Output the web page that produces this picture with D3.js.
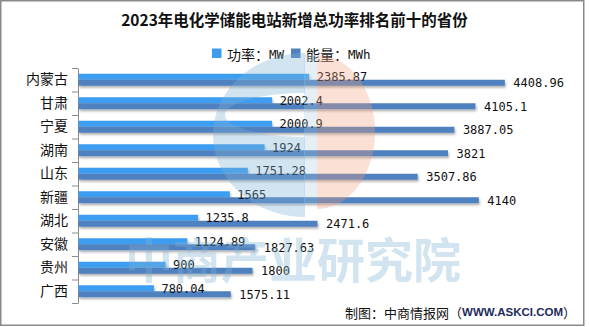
<!DOCTYPE html>
<html>
<head>
<meta charset="utf-8">
<script src="https://cdn.jsdelivr.net/npm/d3@7"></script>
<style>
  html, body { margin: 0; padding: 0; background: #fff; }
  svg { display: block; }
</style>
</head>
<body>
<div id="chart"></div>
<script>
const titleText = "2023年电化学储能电站新增总功率排名前十的省份";
const categories = ["内蒙古", "甘肃", "宁夏", "湖南", "山东", "新疆", "湖北", "安徽", "贵州", "广西"];
const powerMW = [2385.87, 2002.4, 2000.9, 1924, 1751.28, 1565, 1235.8, 1124.89, 900, 780.04];
const energyMWh = [4408.96, 4105.1, 3887.05, 3821, 3507.86, 4140, 2471.6, 1827.63, 1800, 1575.11];
const seriesNames = ["功率", "能量"];
const seriesUnits = ["MW", "MWh"];
const sourceText = ["制图：中商情报网（", "WWW.ASKCI.COM", "）"];
const watermarkText = "中商产业研究院";

const W = 589, H = 327;
const colors = ["#3d9df0", "#4f80bf"];
const CJK = "'Noto Sans CJK SC', 'Noto Sans', sans-serif";
const MONO = "'DejaVu Sans Mono', 'Liberation Mono', monospace";

const svg = d3.select("#chart").append("svg")
  .attr("width", W).attr("height", H);

const defs = svg.append("defs");
const f = defs.append("filter").attr("id", "shadow")
  .attr("x", "-5%").attr("y", "-50%").attr("width", "110%").attr("height", "250%");
f.append("feDropShadow").attr("dx", 1).attr("dy", 2).attr("stdDeviation", 1.3)
  .attr("flood-color", "#000").attr("flood-opacity", 0.3);

svg.append("rect").attr("x", 0).attr("y", 0).attr("width", W).attr("height", H).attr("fill", "#fff");

// Title
svg.append("text")
  .attr("x", 294.5).attr("y", 19)
  .attr("text-anchor", "middle").attr("dominant-baseline", "central")
  .style("font-family", CJK).style("font-size", "15.5px").style("font-weight", "bold")
  .attr("fill", "#111").text(titleText);

// Legend
const legend = svg.append("g");
const legendX = [212, 291];
seriesNames.forEach((n, i) => {
  legend.append("rect").attr("x", legendX[i]).attr("y", 48.5).attr("width", 9.5).attr("height", 9.5)
    .attr("fill", colors[i]);
  const t = legend.append("text").attr("x", legendX[i] + 15).attr("y", 53.5)
    .attr("dominant-baseline", "central").attr("fill", "#111");
  t.append("tspan").style("font-family", CJK).style("font-size", "14px").text(n + "：");
  t.append("tspan").style("font-family", MONO).style("font-size", "12.5px").text(seriesUnits[i]);
});

// Scales
const y = d3.scaleBand().domain(categories).range([68, 303]).paddingInner(0).paddingOuter(0);
const x = d3.scaleLinear().domain([0, 5000]).range([78, 561.5]);
const ySub = d3.scaleBand().domain([0, 1])
  .range([y.bandwidth() / 2 - 6, y.bandwidth() / 2 + 6]).padding(0);

// Axis (labels)
const axis = svg.append("g").attr("transform", `translate(${x(0)},0)`)
  .call(d3.axisLeft(y).tickSize(0).tickPadding(10));
axis.select(".domain").attr("stroke", "#8c8c8c");
axis.selectAll("text").style("font-family", CJK).style("font-size", "14px").attr("fill", "#111");
// boundary ticks
const bounds = categories.map(c => y(c)).concat([y(categories[categories.length - 1]) + y.step()]);
svg.append("g").selectAll("line").data(bounds).join("line")
  .attr("x1", x(0) - 6).attr("x2", x(0)).attr("y1", d => d + 0.5).attr("y2", d => d + 0.5)
  .attr("stroke", "#8c8c8c");

// Bars
const series = [powerMW, energyMWh];
const gapLabel = [8, 9];
series.forEach((vals, si) => {
  const g = svg.append("g");
  g.selectAll("rect").data(vals).join("rect")
    .attr("x", x(0) + 0.5)
    .attr("y", (d, i) => y(categories[i]) + ySub(si))
    .attr("width", d => x(d) - x(0))
    .attr("height", ySub.bandwidth())
    .attr("fill", colors[si])
    .attr("filter", "url(#shadow)");
});
series.forEach((vals, si) => {
  svg.append("g").selectAll("text").data(vals).join("text")
    .attr("x", d => x(d) + gapLabel[si])
    .attr("y", (d, i) => y(categories[i]) + ySub(si) + ySub.bandwidth() / 2 + 0.5)
    .attr("dominant-baseline", "central")
    .style("font-family", MONO).style("font-size", "12px")
    .attr("fill", "#111")
    .text(d => String(d));
});

// Watermark (overlay)
const wm = svg.append("g").style("pointer-events", "none");
const cx = 305, cy = 135;
const outer = [], inner = [];
for (let a = -90; a >= -270; a -= 5) {
  const r = a * Math.PI / 180;
  outer.push([cx + 92 * Math.cos(r), cy + 82 * Math.sin(r)]);
}
for (let a = -270; a <= -90; a += 5) {
  const r = a * Math.PI / 180;
  inner.push([cx + 80 * Math.cos(r), 115 + 22 * Math.sin(r)]);
}
const line = d3.line();
wm.append("path").attr("d", line(outer.concat([[cx, 137]]).concat(inner)) + "Z")
  .attr("fill", "#7fb3d5").attr("opacity", 0.35).attr("fill-rule", "evenodd");
wm.append("rect").attr("x", 304).attr("y", 55).attr("width", 13).attr("height", 150)
  .attr("fill", "#a9c9dd").attr("opacity", 0.3);
const dPts = [];
for (let a = -90; a <= 90; a += 5) {
  const r = a * Math.PI / 180;
  dPts.push([317 + 58 * Math.cos(r), 132 + 77 * Math.sin(r)]);
}
wm.append("path").attr("d", line(dPts) + "Z")
  .attr("fill", "#f0a080").attr("opacity", 0.33);
wm.append("text").attr("x", 293).attr("y", 257)
  .attr("text-anchor", "middle").attr("dominant-baseline", "central")
  .style("font-family", CJK).style("font-size", "48px").style("font-weight", "bold")
  .attr("fill", "#7fb3d5").attr("opacity", 0.35).text(watermarkText);

// Source
const src = svg.append("text").attr("x", 576).attr("y", 312)
  .attr("text-anchor", "end").attr("dominant-baseline", "central")
  .style("font-size", "13px").attr("fill", "#111");
src.append("tspan").style("font-family", CJK).text(sourceText[0]);
src.append("tspan").style("font-family", "'Liberation Sans', Arial, sans-serif")
  .style("font-size", "11.5px").style("font-weight", "bold").attr("fill", "#1c2b5c").text(sourceText[1]);
src.append("tspan").style("font-family", CJK).text(sourceText[2]);

// Border
svg.append("rect").attr("x", 0.75).attr("y", 0.75).attr("width", 583).attr("height", 324.5)
  .attr("fill", "none").attr("stroke", "#8a8a8a").attr("stroke-width", 1.5);
</script>
</body>
</html>
